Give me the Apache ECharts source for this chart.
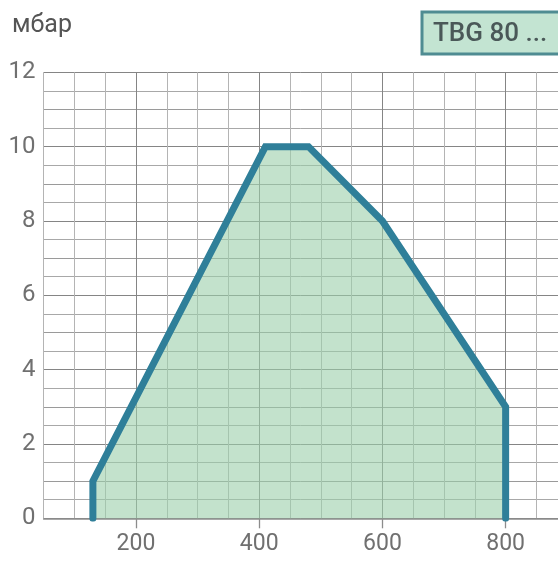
<!DOCTYPE html>
<html>
<head>
<meta charset="utf-8">
<script src="https://cdn.jsdelivr.net/npm/echarts@6/dist/echarts.min.js"></script>
<style>
html,body{margin:0;padding:0;background:#fff;}
#c{width:558px;height:569px;}
</style>
</head>
<body>
<div id="c"></div>
<script>
// Data
var flowX = [130, 130, 410, 480, 600, 800, 800];
var pressureY = [0, 1, 10, 10, 8, 3, 0];
var xTickLabels = [200, 400, 600, 800];
var yTickLabels = [0, 2, 4, 6, 8, 10, 12];
var unitLabel = 'мбар';
var modelLabel = 'TBG 80 ...';

var points = flowX.map(function (x, i) { return [x, pressureY[i]]; });

var chart = echarts.init(document.getElementById('c'), null, {renderer: 'canvas'});
var labelFont = 'Roboto';
chart.setOption({
  animation: false,
  backgroundColor: '#ffffff',
  grid: {left: 43.6, top: 72.3, bottom: 50.7, right: 0, containLabel: false},
  xAxis: [{
    type: 'value', min: 50, max: 885, interval: 50, position: 'bottom',
    axisLine: {show: true, onZero: false, lineStyle: {color: '#8c8c8c', width: 1.5}},
    axisTick: {show: true, customValues: xTickLabels, length: 10, lineStyle: {color: '#8c8c8c', width: 1.3}},
    axisLabel: {customValues: xTickLabels, margin: 14, color: '#707070', fontFamily: labelFont, fontSize: 23},
    splitLine: {show: false}
  }, {
    type: 'value', min: 50, max: 885, interval: 50, position: 'top',
    axisLine: {show: false, onZero: false},
    axisTick: {show: false},
    axisLabel: {show: false},
    splitLine: {show: true, lineStyle: {color: ['#b4b4b4', '#b4b4b4', '#b4b4b4', '#858585'], width: 1}}
  }],
  yAxis: {
    type: 'value', min: 0, max: 12, interval: 0.5,
    axisLine: {show: false},
    axisTick: {show: false},
    axisLabel: {customValues: yTickLabels, margin: 8, color: '#707070', fontFamily: labelFont, fontSize: 24},
    splitLine: {show: true, lineStyle: {color: ['#858585', '#a8a8a8', '#9a9a9a', '#a8a8a8'], width: 1}}
  },
  graphic: [
    {type: 'text', left: 12, top: 13, style: {text: unitLabel, fill: '#555555', font: '25px Roboto'}},
    {type: 'rect', shape: {x: 422, y: 12, width: 160, height: 42}, style: {fill: '#c3e4d2', stroke: '#4f8c92', lineWidth: 3}},
    {type: 'text', x: 433, y: 34, style: {text: modelLabel, fill: '#4a5858', font: '500 26px Roboto', textVerticalAlign: 'middle'}}
  ],
  series: [{
    type: 'line',
    xAxisIndex: 0,
    data: points,
    symbol: 'none',
    lineStyle: {color: '#2f7f99', width: 7, cap: 'round', join: 'miter'},
    areaStyle: {color: '#9bcfaa', opacity: 0.6, origin: 'start'},
    z: 3
  }]
});
</script>
</body>
</html>
